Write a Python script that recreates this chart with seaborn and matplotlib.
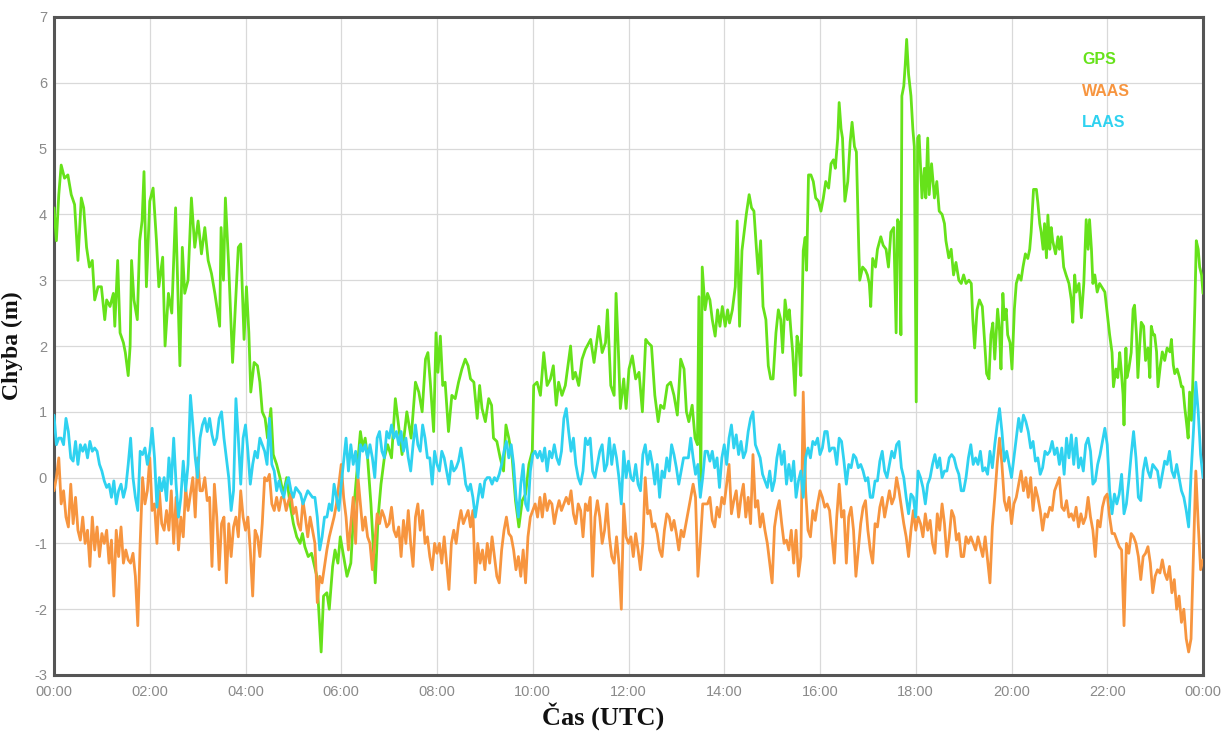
import numpy as np
import pandas as pd
import matplotlib
matplotlib.use("Agg")
import matplotlib.pyplot as plt
import seaborn as sns

# ---------------------------------------------------------------- data
# GPS position error (m): (hour UTC, error)
GPS_POINTS = [
    (0.00, 4.1), (0.05, 3.6), (0.10, 4.3), (0.15, 4.75), (0.22, 4.55), (0.29, 4.6),
    (0.36, 4.3), (0.43, 4.15), (0.50, 3.3), (0.57, 4.25), (0.62, 4.1), (0.68, 3.5),
    (0.74, 3.2), (0.80, 3.3), (0.85, 2.7), (0.92, 2.9), (0.99, 2.9), (1.06, 2.4),
    (1.10, 2.7), (1.17, 2.6), (1.24, 2.8), (1.27, 2.3), (1.33, 3.3), (1.38, 2.2),
    (1.45, 2.05), (1.49, 1.9), (1.55, 1.55), (1.59, 2.0), (1.62, 3.3), (1.67, 2.7),
    (1.74, 2.4), (1.79, 3.6), (1.84, 3.9), (1.88, 4.65), (1.93, 2.9), (2.00, 4.2),
    (2.07, 4.4), (2.14, 3.6), (2.19, 2.9), (2.27, 3.35), (2.32, 2.0), (2.39, 2.8),
    (2.46, 2.5), (2.54, 4.1), (2.63, 1.7), (2.68, 3.5), (2.73, 2.8), (2.80, 3.0),
    (2.87, 4.25), (2.94, 3.5), (3.01, 3.9), (3.08, 3.4), (3.15, 3.8), (3.22, 3.3),
    (3.29, 3.1), (3.36, 2.8), (3.46, 2.3), (3.49, 3.8), (3.54, 3.0), (3.58, 4.25),
    (3.65, 3.2), (3.73, 1.75), (3.85, 3.5), (3.90, 3.55), (3.97, 2.1), (4.02, 2.9),
    (4.07, 2.2), (4.11, 1.3), (4.18, 1.75), (4.25, 1.7), (4.30, 1.45), (4.35, 1.0),
    (4.41, 0.9), (4.46, 0.6), (4.53, 1.05), (4.58, 0.35), (4.65, 0.2), (4.72, 0.0),
    (4.79, -0.25), (4.86, 0.0), (4.93, -0.4), (5.00, -0.7), (5.07, -0.9), (5.14, -1.0),
    (5.19, -0.85), (5.24, -1.05), (5.31, -1.2), (5.38, -1.15), (5.49, -1.5), (5.58, -2.65),
    (5.63, -1.8), (5.70, -1.75), (5.75, -2.0), (5.82, -1.35), (5.87, -1.1), (5.93, -1.3),
    (5.98, -0.9), (6.05, -1.2), (6.12, -1.5), (6.20, -1.3), (6.27, -0.4), (6.33, 0.1),
    (6.40, 0.7), (6.45, 0.45), (6.50, 0.6), (6.55, 0.3), (6.62, -0.4), (6.71, -1.6),
    (6.77, -0.6), (6.83, -0.1), (6.90, 0.3), (6.97, 0.5), (7.05, 0.3), (7.13, 1.2),
    (7.18, 0.9), (7.27, 0.35), (7.37, 1.0), (7.46, 0.6), (7.55, 1.45), (7.62, 1.3),
    (7.69, 1.0), (7.76, 1.8), (7.81, 1.9), (7.86, 1.45), (7.93, 0.7), (7.98, 2.2),
    (8.02, 1.6), (8.07, 2.15), (8.12, 1.4), (8.17, 1.45), (8.24, 0.7), (8.31, 1.25),
    (8.38, 1.2), (8.45, 1.45), (8.52, 1.65), (8.59, 1.8), (8.65, 1.7), (8.70, 1.5),
    (8.77, 1.45), (8.84, 0.9), (8.89, 1.4), (8.94, 1.05), (9.01, 0.85), (9.08, 1.2),
    (9.14, 1.1), (9.18, 0.6), (9.25, 0.55), (9.32, 0.3), (9.39, 0.1), (9.44, 0.8),
    (9.50, 0.6), (9.57, 0.3), (9.64, -0.35), (9.71, -0.75), (9.78, -0.35), (9.85, -0.25),
    (9.92, 0.2), (9.99, 0.4), (10.02, 1.4), (10.09, 1.45), (10.16, 1.25), (10.23, 1.9),
    (10.30, 1.4), (10.37, 1.5), (10.43, 1.7), (10.49, 1.1), (10.54, 1.45), (10.61, 1.25),
    (10.68, 1.4), (10.79, 2.0), (10.84, 1.5), (10.89, 1.6), (10.96, 1.4), (11.03, 1.8),
    (11.10, 1.95), (11.21, 2.1), (11.28, 1.75), (11.38, 2.3), (11.45, 1.9), (11.52, 2.05),
    (11.56, 2.55), (11.63, 1.4), (11.70, 1.25), (11.74, 2.8), (11.79, 1.9), (11.83, 1.05),
    (11.90, 1.5), (11.95, 1.05), (12.01, 1.65), (12.08, 1.85), (12.15, 1.5), (12.22, 1.6),
    (12.29, 1.0), (12.36, 2.1), (12.41, 2.05), (12.48, 2.0), (12.55, 1.25), (12.62, 0.85),
    (12.67, 1.1), (12.74, 1.05), (12.81, 1.4), (12.88, 1.45), (12.95, 1.25), (13.02, 0.95),
    (13.09, 1.8), (13.16, 1.65), (13.21, 1.0), (13.26, 0.85), (13.33, 1.1), (13.39, 0.6),
    (13.44, 0.5), (13.47, 2.75), (13.51, -0.1), (13.54, 3.2), (13.60, 2.55), (13.65, 2.8),
    (13.70, 2.7), (13.75, 2.4), (13.81, 2.15), (13.86, 2.55), (13.91, 2.3), (13.96, 2.6),
    (14.02, 2.3), (14.07, 2.55), (14.11, 2.35), (14.17, 2.55), (14.23, 2.9), (14.27, 3.9),
    (14.32, 2.3), (14.37, 3.45), (14.41, 3.7), (14.46, 4.0), (14.52, 4.3), (14.57, 4.1),
    (14.62, 4.05), (14.67, 3.5), (14.71, 3.1), (14.76, 3.6), (14.81, 2.6), (14.87, 2.4),
    (14.92, 1.7), (14.97, 1.5), (15.02, 1.5), (15.08, 2.2), (15.13, 2.55), (15.18, 2.4),
    (15.22, 1.9), (15.27, 2.7), (15.32, 2.4), (15.36, 2.55), (15.39, 2.25), (15.43, 1.9),
    (15.48, 1.25), (15.52, 2.15), (15.56, 2.0), (15.60, 1.55), (15.65, 3.45), (15.69, 3.65),
    (15.72, 3.15), (15.76, 4.6), (15.81, 4.6), (15.86, 4.5), (15.91, 4.25), (15.97, 4.2),
    (16.02, 4.05), (16.07, 4.25), (16.12, 4.5), (16.18, 4.4), (16.23, 4.77), (16.28, 4.83),
    (16.32, 4.7), (16.37, 5.16), (16.40, 5.7), (16.44, 5.3), (16.47, 5.16), (16.52, 4.2),
    (16.58, 4.5), (16.63, 5.1), (16.67, 5.4), (16.72, 5.03), (16.76, 4.95), (16.81, 3.47),
    (16.83, 3.0), (16.89, 3.2), (16.95, 3.15), (16.99, 3.08), (17.03, 2.95), (17.06, 2.6),
    (17.10, 3.33), (17.16, 3.2), (17.20, 3.47), (17.27, 3.66), (17.32, 3.53), (17.38, 3.47),
    (17.43, 3.2), (17.48, 3.73), (17.54, 3.8), (17.59, 2.2), (17.62, 3.92), (17.66, 3.86),
    (17.69, 2.17), (17.71, 5.8), (17.75, 5.95), (17.78, 6.27), (17.81, 6.66), (17.85, 6.13),
    (17.90, 5.8), (17.94, 5.29), (17.97, 5.03), (18.01, 1.15), (18.04, 5.16), (18.07, 5.2),
    (18.13, 4.25), (18.18, 4.7), (18.21, 4.25), (18.25, 5.16), (18.28, 4.3), (18.33, 4.77),
    (18.39, 4.25), (18.44, 4.5), (18.49, 4.05), (18.55, 4.0), (18.60, 3.86), (18.63, 3.6),
    (18.69, 3.34), (18.74, 3.47), (18.79, 3.08), (18.84, 3.27), (18.90, 3.0), (18.95, 2.95),
    (19.00, 3.08), (19.05, 2.95), (19.11, 3.0), (19.16, 2.95), (19.19, 2.43), (19.23, 1.97),
    (19.28, 2.55), (19.33, 2.7), (19.39, 2.6), (19.44, 2.05), (19.48, 1.58), (19.53, 1.5),
    (19.57, 2.17), (19.61, 2.35), (19.65, 1.8), (19.71, 2.56), (19.75, 2.23), (19.78, 1.65),
    (19.82, 2.8), (19.85, 2.4), (19.89, 2.56), (19.92, 2.17), (19.97, 2.05), (20.01, 1.65),
    (20.06, 2.56), (20.10, 2.95), (20.15, 3.08), (20.20, 3.0), (20.24, 3.2), (20.29, 3.4),
    (20.34, 3.33), (20.38, 3.47), (20.41, 3.73), (20.46, 4.38), (20.52, 4.38), (20.55, 4.18),
    (20.59, 3.86), (20.62, 3.73), (20.66, 3.47), (20.69, 3.86), (20.73, 3.34), (20.76, 3.99),
    (20.80, 3.47), (20.83, 3.8), (20.86, 3.6), (20.92, 3.4), (20.97, 3.66), (21.00, 3.47),
    (21.04, 3.66), (21.09, 3.2), (21.14, 3.08), (21.20, 2.95), (21.25, 2.7), (21.28, 2.36),
    (21.32, 3.08), (21.35, 2.82), (21.41, 2.95), (21.46, 2.43), (21.51, 2.95), (21.56, 3.92),
    (21.60, 3.47), (21.63, 3.92), (21.67, 3.47), (21.70, 2.95), (21.74, 3.08), (21.79, 2.82),
    (21.84, 2.95), (21.90, 2.88), (21.95, 2.82), (21.99, 2.56), (22.05, 2.17), (22.10, 1.9),
    (22.13, 1.38), (22.18, 1.65), (22.22, 1.52), (22.26, 1.9), (22.29, 1.65), (22.33, 1.26),
    (22.35, 0.8), (22.39, 1.97), (22.41, 1.52), (22.45, 1.65), (22.50, 1.9), (22.54, 2.56),
    (22.57, 2.62), (22.61, 2.17), (22.64, 1.52), (22.68, 2.04), (22.71, 2.36), (22.76, 2.3),
    (22.80, 1.78), (22.85, 1.97), (22.89, 1.52), (22.92, 2.3), (22.96, 2.17), (22.99, 2.17),
    (23.03, 1.91), (23.06, 1.38), (23.11, 1.71), (23.15, 1.91), (23.20, 1.78), (23.25, 1.97),
    (23.31, 1.91), (23.34, 2.1), (23.38, 1.71), (23.41, 1.58), (23.46, 1.65), (23.51, 1.52),
    (23.55, 1.38), (23.58, 1.38), (23.62, 1.06), (23.65, 0.87), (23.69, 0.6), (23.72, 1.3),
    (23.76, 0.87), (23.79, 1.52), (23.83, 2.62), (23.86, 3.6), (23.90, 3.47), (23.93, 3.2),
    (23.97, 3.08), (24.00, 2.8),
]

# WAAS and LAAS errors (m), sampled every 3 minutes from 00:00 to 24:00
WAAS = [
    -0.2, 0.0, 0.3, -0.4, -0.2, -0.6, -0.75, -0.1, -0.7, -0.3,
    -0.8, -0.95, -0.6, -1.0, -0.8, -1.35, -0.6, -1.1, -0.75, -1.2,
    -0.85, -1.0, -0.8, -1.3, -0.95, -1.8, -0.8, -1.2, -0.75, -1.3,
    -1.1, -1.25, -1.3, -1.15, -1.5, -2.25, -1.0, 0.0, -0.4, -0.2,
    0.3, -0.5, -0.4, -1.0, -0.2, -0.7, -0.8, -0.5, -0.8, -0.2,
    -1.0, -0.3, -1.1, -0.6, -0.9, -0.15, -0.5, -0.25, 0.0, -0.6,
    0.3, -0.2, -0.2, 0.0, -0.35, -0.3, -1.35, -0.1, -0.6, -1.4,
    -0.7, -0.6, -1.6, -0.7, -1.2, -0.75,
    -0.6, -0.9, -0.2, -0.6, -0.8, -0.6, -1.1, -1.8, -0.8, -0.9,
    -1.2, -0.7, 0.0, -0.05, 0.05, -0.4, -0.5, -0.3, -0.5, -0.3,
    -0.3, -0.5, -0.35, -0.25, -0.55, -0.45, -0.7, -0.8, -0.35, -0.6,
    -0.9, -0.6, -0.8, -1.0, -1.9, -1.5, -1.6, -1.35, -1.1, -0.9,
    -0.75, -0.6, -0.4, -0.1, 0.2, -0.3, -0.6, -1.1, -0.7, -0.3,
    -1.0, 0.0, -0.4, -0.8, -0.6, -0.9, -1.0, -1.4, -1.0, -0.55,
    -0.7, -0.5, -0.6, -0.75, -0.7, -0.45, -0.8, -0.9, -0.75, -1.2,
    -0.65, -1.0, -0.5, -1.0, -1.35, -0.6, -0.4, -0.8, -0.5,
    -1.0, -0.9, -1.2, -1.4, -1.0, -1.15, -1.0, -1.3, -0.9, -1.3,
    -1.7, -1.0, -0.8, -1.0, -0.7, -0.5, -0.7, -0.6, -0.5, -0.75,
    -0.5, -1.6, -1.0, -1.3, -1.1, -1.4, -1.0, -1.3, -0.9, -1.2,
    -1.5, -1.6, -1.1, -0.8, -0.6, -0.85, -0.9, -1.1, -1.4, -1.2,
    -1.5, -1.1, -1.6, -0.9, -0.6, -0.5, -0.4, -0.6, -0.3, -0.6,
    -0.25, -0.5, -0.35, -0.4, -0.7, -0.5, -0.35, -0.5, -0.4, -0.3,
    -0.4, -0.2, -0.55, -0.7, -0.4, -0.5, -0.9, -0.4, -0.5, -0.3,
    -1.5, -0.6, -0.35, -0.6, -1.0, -0.8, -0.4, -0.9, -1.2, -1.3,
    -0.9, -1.3, -2.0, -0.4, -0.9, -1.0, -0.9, -1.2, -0.85, -1.1,
    -1.4, -1.0, 0.0, -0.55, -0.5, -0.75, -0.7, -0.85, -1.1, -1.2,
    -0.8, -0.55, -0.6, -0.8, -0.65, -0.85, -1.1, -0.8, -0.9, -0.7,
    -0.5, -0.3, -0.1, -0.3, -1.5, -1.0, -0.4, -0.4, -0.4, -0.3,
    -0.65, -0.75, -0.45, -0.6, -0.3, -0.4, -0.1, 0.2, -0.55, -0.35,
    -0.2, -0.6, -0.3, -0.1, -0.6, -0.3, -0.7, 0.35, -0.45, -0.35,
    -0.75, -0.55, -0.8, -1.0, -1.3, -1.6, -0.75, -0.5, -0.35, -0.7,
    -1.0, -0.95, -1.1, -0.8, -1.3, -0.8, -1.5, -1.2, 1.3,
    -0.2, -0.8, -0.9, -0.5, -0.65, -0.4, -0.2, -0.3, -0.45, -0.4,
    -0.5, -0.9, -1.3, -0.6, -0.1, -0.6, -0.5, -1.3, -0.6, -0.45,
    -0.8, -1.5, -1.1, -0.7, -0.45, -0.35, -0.8, -1.1, -1.3, -0.7,
    -0.75, -0.45, -0.3, -0.6, -0.4, -0.2, -0.4, -0.3, 0.0, -0.2,
    -0.45, -0.7, -0.9, -1.2, -0.8, -0.5, -0.8, -0.6, -0.7, -0.9,
    -0.55, -0.8, -0.65, -1.0, -1.15, -0.55, -0.8, -0.4, -0.7, -1.2,
    -0.9, -0.5, -0.6, -0.95, -0.85, -1.2, -1.2, -0.9, -1.0, -0.9,
    -1.0, -1.1, -0.9, -1.05, -1.2, -0.9, -1.25, -1.6, -0.75, -0.3,
    0.2, 0.6, 0.2, -0.35, -0.5, -0.3, -0.7, -0.4, -0.3, -0.1,
    0.1, -0.2, 0.0, -0.3, 0.0, -0.5, -0.15, -0.3, -0.5, -0.8,
    -0.55, -0.6, -0.45, -0.5, -0.2, -0.1, 0.0, -0.45, -0.5, -0.35,
    -0.6, -0.55, -0.65, -0.45, -0.75, -0.55, -0.7, -0.6, -0.3, -0.6,
    -0.8, -1.2, -0.65, -0.75, -0.45, -0.3, -0.25, -0.6, -0.85, -0.85,
    -0.95, -1.05, -1.1, -2.25, -1.0, -1.15, -0.85, -0.9, -1.0, -1.2,
    -1.55, -1.2, -1.15, -1.05, -1.3, -1.75, -1.5, -1.4, -1.45, -1.25,
    -1.45, -1.55, -1.35, -1.75, -1.55, -2.0, -1.8, -2.2, -2.0, -2.45,
    -2.65, -2.45, -1.2, 0.1, -0.7, -1.4, -1.25,
]

LAAS = [
    0.95, 0.5, 0.6, 0.6, 0.5, 0.9, 0.7, 0.3, 0.25, 0.55,
    0.2, 0.5, 0.4, 0.5, 0.3, 0.55, 0.4, 0.45, 0.4, 0.2,
    0.1, -0.05, -0.15, -0.1, -0.3, -0.05, -0.4, -0.2, -0.1, -0.3,
    -0.15, 0.2, 0.6, 0.0, -0.3, -0.5, 0.4, 0.35, 0.45, 0.2,
    0.4, 0.75, 0.3, -0.45, 0.0, -0.2, 0.0, -0.35, 0.3, -0.1,
    0.6, -0.1, -0.6, -0.3, 0.25, -0.2, 0.2, 1.25, 0.8, 0.3,
    0.0, 0.6, 0.8, 0.9, 0.7, 0.9, 0.65, 0.5, 0.6, 0.9,
    1.0, 0.6, 0.3, 0.0, -0.5, -0.2,
    1.2, 0.6, -0.1, 0.6, 0.8, 0.4, -0.1, 0.2, 0.4, 0.3,
    0.6, 0.5, 0.4, 0.2, 0.9, 0.2, 0.1, -0.2, -0.05, -0.2,
    -0.3, -0.1, 0.0, -0.2, -0.3, -0.15, -0.2, -0.25, -0.4, -0.3,
    -0.2, -0.25, -0.3, -0.3, -0.6, -1.1, -0.9, -0.6, -0.6, -0.4,
    -0.5, -0.1, -0.3, -0.5, -0.1, 0.25, 0.6, 0.1, 0.5, 0.2,
    0.4, 0.0, 0.5, 0.4, 0.5, 0.3, 0.5, 0.3, 0.0, 0.6,
    0.7, 0.4, 0.3, 0.7, 0.6, 0.8, 0.6, 0.7, 0.5, 0.7,
    0.4, 0.6, 0.3, 0.1, 0.5, 0.8, 0.5, 0.4, 0.8,
    0.6, 0.3, 0.3, -0.1, 0.4, 0.2, 0.1, 0.4, 0.3, 0.1,
    -0.1, 0.25, 0.1, 0.15, 0.25, 0.45, 0.2, -0.1, -0.2, -0.1,
    -0.3, -0.6, -0.35, -0.1, -0.3, -0.05, 0.0, 0.0, -0.1, 0.0,
    -0.05, 0.05, 0.2, 0.4, 0.55, 0.3, 0.5, 0.2, -0.3, -0.6,
    -0.1, 0.2, -0.4, -0.5, 0.1, 0.35, 0.4, 0.3, 0.4, 0.25,
    0.45, 0.1, 0.4, 0.3, 0.5, 0.3, 0.2, 0.4, 0.9, 1.05,
    0.7, 0.4, 0.6, 0.2, 0.0, -0.1, 0.1, 0.6, 0.5, 0.6,
    0.1, 0.0, 0.2, 0.4, 0.5, 0.1, 0.2, 0.6, 0.2, 0.5,
    0.3, 0.0, -0.4, 0.4, 0.0, 0.25, 0.0, -0.05, 0.2, -0.1,
    -0.2, 0.35, 0.5, 0.2, 0.4, 0.2, -0.1, 0.2, -0.3, 0.1,
    0.0, 0.3, 0.1, 0.5, 0.35, 0.15, -0.1, 0.1, 0.3, 0.3,
    0.3, 0.6, 0.3, 0.05, 0.2, -0.3, 0.0, 0.4, 0.4, 0.25,
    0.4, 0.15, 0.3, -0.15, 0.3, 0.5, 0.2, 0.6, 0.8, 0.45,
    0.65, 0.35, 0.55, 0.3, 0.4, 0.7, 0.9, 1.0, 0.5, 0.4,
    0.3, 0.05, -0.05, -0.15, 0.1, -0.2, -0.05, 0.3, 0.5, 0.2,
    0.4, -0.1, 0.2, -0.05, 0.25, -0.3, -0.05, 0.1, -0.3,
    0.3, 0.45, 0.3, 0.55, 0.5, 0.6, 0.35, 0.45, 0.7, 0.7,
    0.4, 0.45, 0.45, 0.2, 0.6, 0.55, 0.25, -0.1, 0.2, 0.15,
    0.35, 0.3, 0.15, 0.2, 0.1, -0.05, 0.0, -0.3, -0.3, -0.05,
    -0.05, 0.25, 0.4, 0.1, 0.0, 0.2, 0.4, 0.3, 0.5, 0.55,
    0.15, 0.0, -0.3, -0.55, -0.25, -0.3, -0.6, 0.1, 0.0, -0.15,
    -0.4, -0.1, 0.0, 0.2, 0.35, 0.15, 0.3, 0.0, 0.1, 0.1,
    0.3, 0.35, 0.3, 0.15, 0.05, -0.2, -0.2, 0.0, 0.3, 0.5,
    0.2, 0.3, 0.2, 0.4, 0.1, 0.15, 0.05, 0.4, 0.15, 0.5,
    0.8, 1.05, 0.7, 0.25, 0.4, 0.2, 0.0, 0.3, 0.6, 0.9,
    0.7, 0.95, 0.85, 0.7, 0.45, 0.55, 0.25, 0.3, 0.05, 0.15,
    0.4, 0.35, 0.4, 0.55, 0.35, 0.45, 0.2, 0.45, 0.05, 0.6,
    0.3, 0.65, 0.2, 0.6, 0.15, 0.3, 0.1, 0.5, 0.6, 0.4,
    -0.1, -0.05, 0.2, 0.35, 0.55, 0.75, 0.5, -0.2, -0.55, -0.25,
    -0.4, -0.25, 0.05, -0.55, -0.4, -0.05, 0.35, 0.7, 0.3, -0.3,
    -0.35, 0.1, 0.3, 0.1, 0.0, 0.2, 0.15, 0.1, -0.15, 0.05,
    0.25, 0.2, 0.4, 0.1, 0.0, 0.2, 0.0, -0.2, -0.3, -0.5,
    -0.75, 0.05, 0.7, 1.45, 1.0, 0.35, 0.0,
]

SAMPLE_HOURS = np.linspace(0, 24, len(WAAS))

SERIES_NAMES = ["GPS", "WAAS", "LAAS"]
SERIES_COLORS = {"GPS": "#66e21a", "WAAS": "#f7953f", "LAAS": "#2fd2f0"}

HOUR_TICKS = list(range(0, 25, 2))
HOUR_LABELS = ["00:00", "02:00", "04:00", "06:00", "08:00", "10:00", "12:00",
               "14:00", "16:00", "18:00", "20:00", "22:00", "00:00"]
ERROR_TICKS = list(range(-3, 8))

# ---------------------------------------------------------------- tables
gps_df = pd.DataFrame(GPS_POINTS, columns=["hour", "error"])
aux_df = pd.DataFrame({"hour": SAMPLE_HOURS, "WAAS": WAAS, "LAAS": LAAS})

# ---------------------------------------------------------------- figure
sns.set_theme(style="white")
plt.rcParams["font.family"] = ["Liberation Sans", "DejaVu Sans"]

fig = plt.figure(figsize=(12.25, 7.31), dpi=100)
ax = fig.add_axes([54 / 1225, 1 - 675 / 731, (1203 - 54) / 1225, (675 - 17) / 731])

sns.lineplot(data=gps_df, x="hour", y="error", color=SERIES_COLORS["GPS"],
             linewidth=2.0, estimator=None, ax=ax, zorder=3)
sns.lineplot(data=aux_df, x="hour", y="WAAS", color=SERIES_COLORS["WAAS"],
             linewidth=2.0, estimator=None, ax=ax, zorder=4)
sns.lineplot(data=aux_df, x="hour", y="LAAS", color=SERIES_COLORS["LAAS"],
             linewidth=2.0, estimator=None, ax=ax, zorder=5)

ax.set_xlim(0, 24)
ax.set_ylim(-3, 7)
ax.set_xticks(HOUR_TICKS)
ax.set_xticklabels(HOUR_LABELS)
ax.set_yticks(ERROR_TICKS)
ax.set_yticklabels([str(v) for v in ERROR_TICKS])
ax.tick_params(axis="both", length=0, labelsize=10.5, labelcolor="#8a8a8a")
ax.tick_params(axis="x", pad=7)
ax.tick_params(axis="y", pad=5)

ax.grid(True, color="#d9d9d9", linewidth=0.9, zorder=0)
ax.set_axisbelow(True)
for side, spine in ax.spines.items():
    spine.set_visible(True)
    spine.set_color("#555555")
    spine.set_linewidth(2.2)

serif = ["Liberation Serif", "DejaVu Serif"]
ax.set_xlabel("Čas (UTC)", fontsize=19, fontweight="bold", family=serif,
              color="#111111")
ax.xaxis.set_label_coords((603 - 54) / 1149, (675 - 702) / 658)
ax.set_ylabel("Chyba (m)", fontsize=17, fontweight="bold", family=serif,
              color="#111111")
ax.yaxis.set_label_coords((23 - 54) / 1149, 0.5)

# text-only legend in the upper right
legend_y = [0.935, 0.887, 0.840]
for name, ly in zip(SERIES_NAMES, legend_y):
    ax.text((1082 - 54) / 1149, ly, name, transform=ax.transAxes,
            color=SERIES_COLORS[name], fontsize=11.5, fontweight="bold",
            ha="left", va="center", zorder=6)

fig.savefig("out.png", dpi=100)
